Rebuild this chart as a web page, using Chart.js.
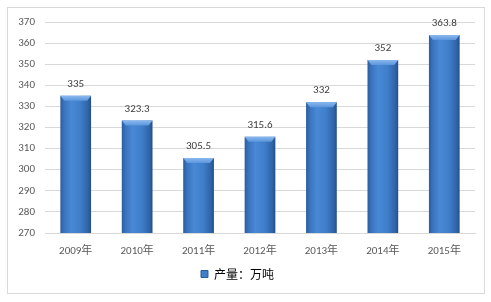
<!DOCTYPE html>
<html>
<head>
<meta charset="utf-8">
<script src="https://cdn.jsdelivr.net/npm/chart.js@4"></script>
<style>
  html, body { margin: 0; padding: 0; background: #fff; }
  #wrap { position: relative; width: 491px; height: 302px; }
  #frame { position: absolute; left: 7px; top: 7px; width: 476px; height: 285px; border: 1px solid #d9d9d9; }
  canvas { position: absolute; left: 0; top: 0; }
</style>
</head>
<body>
<div id="wrap">
  <div id="frame"></div>
  <canvas id="c" width="491" height="302"></canvas>
</div>
<script>
// 数据
var anni = ["2009年", "2010年", "2011年", "2012年", "2013年", "2014年", "2015年"];
var produzione = [335, 323.3, 305.5, 315.6, 332, 352, 363.8];
var etichette = ["335", "323.3", "305.5", "315.6", "332", "352", "363.8"];
var nomeSerie = "产量：万吨";
var yMin = 270, yMax = 370, yStep = 10;

var fontBase = "Calibri, Carlito, 'Liberation Sans', 'Noto Sans CJK SC', sans-serif";

function gradBar(ctx2d, x, w) {
    var g = ctx2d.createLinearGradient(x - w / 2, 0, x + w / 2, 0);
    g.addColorStop(0, "#2b5c9e");
    g.addColorStop(0.12, "#3a73bd");
    g.addColorStop(0.35, "#4888d4");
    g.addColorStop(0.65, "#3f7eca");
    g.addColorStop(0.9, "#2f64a8");
    g.addColorStop(1, "#244f8a");
    return g;
}

// top bevel + value labels
var pluginBarre = {
    id: "barre",
    afterDatasetsDraw: function(chart) {
        var c = chart.ctx;
        var meta = chart.getDatasetMeta(0);
        meta.data.forEach(function(bar, i) {
            var l = bar.x - bar.width / 2, r = bar.x + bar.width / 2, t = bar.y;
            // bottom shade
            var gb = c.createLinearGradient(0, bar.base - 30, 0, bar.base);
            gb.addColorStop(0, "rgba(20,50,100,0)");
            gb.addColorStop(1, "rgba(20,50,100,0.35)");
            c.fillStyle = gb;
            c.fillRect(l, bar.base - 30, r - l, 30);
            // bevel
            c.beginPath();
            c.moveTo(l, t);
            c.lineTo(r, t);
            c.lineTo(r - 4, t + 5);
            c.lineTo(l + 4, t + 5);
            c.closePath();
            var gt = c.createLinearGradient(0, t, 0, t + 5);
            gt.addColorStop(0, "#8ab8ef");
            gt.addColorStop(1, "#5b95dc");
            c.fillStyle = gt;
            c.fill();
            // label
            c.fillStyle = "#404040";
            c.font = "11px " + fontBase;
            c.textAlign = "center";
            c.textBaseline = "bottom";
            c.fillText(etichette[i], bar.x, t - 6);
        });
    }
};

var ctx = document.getElementById("c");
var myChart = new Chart(ctx, {
    type: "bar",
    data: {
        labels: anni,
        datasets: [{
            label: nomeSerie,
            data: produzione,
            backgroundColor: function(context) {
                var ch = context.chart;
                var sx = ch.scales.x;
                if (!sx || !ch.chartArea) return "#3d7cc8";
                var x = sx.getPixelForValue(context.dataIndex);
                var w = sx.width / anni.length * 0.5;
                return gradBar(ch.ctx, x, w);
            },
            borderWidth: 0,
            categoryPercentage: 1,
            barPercentage: 0.5
        }]
    },
    options: {
        responsive: false,
        animation: false,
        layout: { padding: { left: 0, right: 16, top: 22, bottom: 12 } },
        scales: {
            x: {
                grid: { display: false },
                border: { display: true, color: "#d9d9d9" },
                ticks: { color: "#595959", font: { size: 11, family: fontBase }, padding: 4 },
                afterFit: function(s) { s.height = 27; }
            },
            y: {
                min: yMin,
                max: yMax,
                grid: { color: "#d9d9d9", drawTicks: false },
                border: { display: false },
                ticks: { stepSize: yStep, color: "#595959", font: { size: 11, family: fontBase }, padding: 10 },
                afterFit: function(s) { s.width = 45; }
            }
        },
        plugins: {
            tooltip: { enabled: false },
            legend: {
                position: "bottom",
                labels: {
                    boxWidth: 7,
                    boxHeight: 7,
                    color: "#404040",
                    font: { size: 12, family: "'Noto Sans CJK SC', sans-serif" },
                    padding: 8,
                    generateLabels: function(chart) {
                        return [{ text: nomeSerie, fillStyle: "#3f7ec9", strokeStyle: "#2b5c9e", lineWidth: 1, datasetIndex: 0 }];
                    }
                }
            }
        }
    },
    plugins: [pluginBarre]
});
</script>
</body>
</html>
